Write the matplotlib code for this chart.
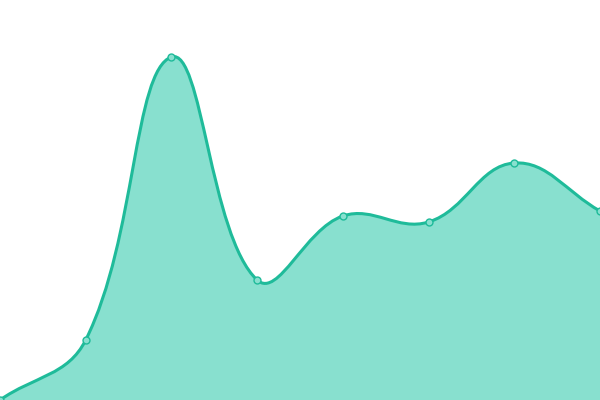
import numpy as np
import matplotlib
matplotlib.use("Agg")
import matplotlib.pyplot as plt
from matplotlib.path import Path
from matplotlib.patches import PathPatch

# point values (pixel height above the bottom of a 400 px tall chart)
x_index = [0, 1, 2, 3, 4, 5, 6, 7]
values = [0, 60, 343, 120, 184, 178, 237, 189]

LINE = "#1fbb9a"
FILL = "#88e0cf"
TENSION = 0.4
W, H = 600, 400


def control_points(px, py, t=TENSION):
    # chart.js style spline: tangent from neighbours, weighted by distances
    n = len(px)
    cps = []
    for i in range(n):
        prev = np.array([px[max(i - 1, 0)], py[max(i - 1, 0)]])
        cur = np.array([px[i], py[i]])
        nxt = np.array([px[min(i + 1, n - 1)], py[min(i + 1, n - 1)]])
        d01 = np.hypot(*(cur - prev))
        d12 = np.hypot(*(nxt - cur))
        s01 = d01 / (d01 + d12)
        s12 = d12 / (d01 + d12)
        before = cur - t * s01 * (nxt - prev)
        after = cur + t * s12 * (nxt - prev)
        before = np.clip(before, [0, 0], [W, H])
        after = np.clip(after, [0, 0], [W, H])
        cps.append((before, after))
    return cps


fig = plt.figure(figsize=(6, 4), dpi=100)
ax = fig.add_axes([0, 0, 1, 1])

px = np.array(x_index, float) * W / (len(x_index) - 1)
py = np.array(values, float)
cps = control_points(px, py)

verts = [(px[0], py[0])]
codes = [Path.MOVETO]
for i in range(len(px) - 1):
    verts += [tuple(cps[i][1]), tuple(cps[i + 1][0]), (px[i + 1], py[i + 1])]
    codes += [Path.CURVE4] * 3
line_path = Path(verts, codes)

fill_path = Path(verts + [(px[-1], 0), (px[0], 0), (px[0], py[0])],
                 codes + [Path.LINETO, Path.LINETO, Path.CLOSEPOLY])
ax.add_patch(PathPatch(fill_path, facecolor=FILL, edgecolor="none", zorder=1))
ax.add_patch(PathPatch(line_path, facecolor="none", edgecolor=LINE, lw=2.2,
                       zorder=2))
ax.plot(px, py, "o", ms=5, mfc=FILL, mec=LINE, mew=1, zorder=3, clip_on=False)

ax.set_xlim(0, W)
ax.set_ylim(0, H)
ax.axis("off")

fig.savefig("out.png", dpi=100)
